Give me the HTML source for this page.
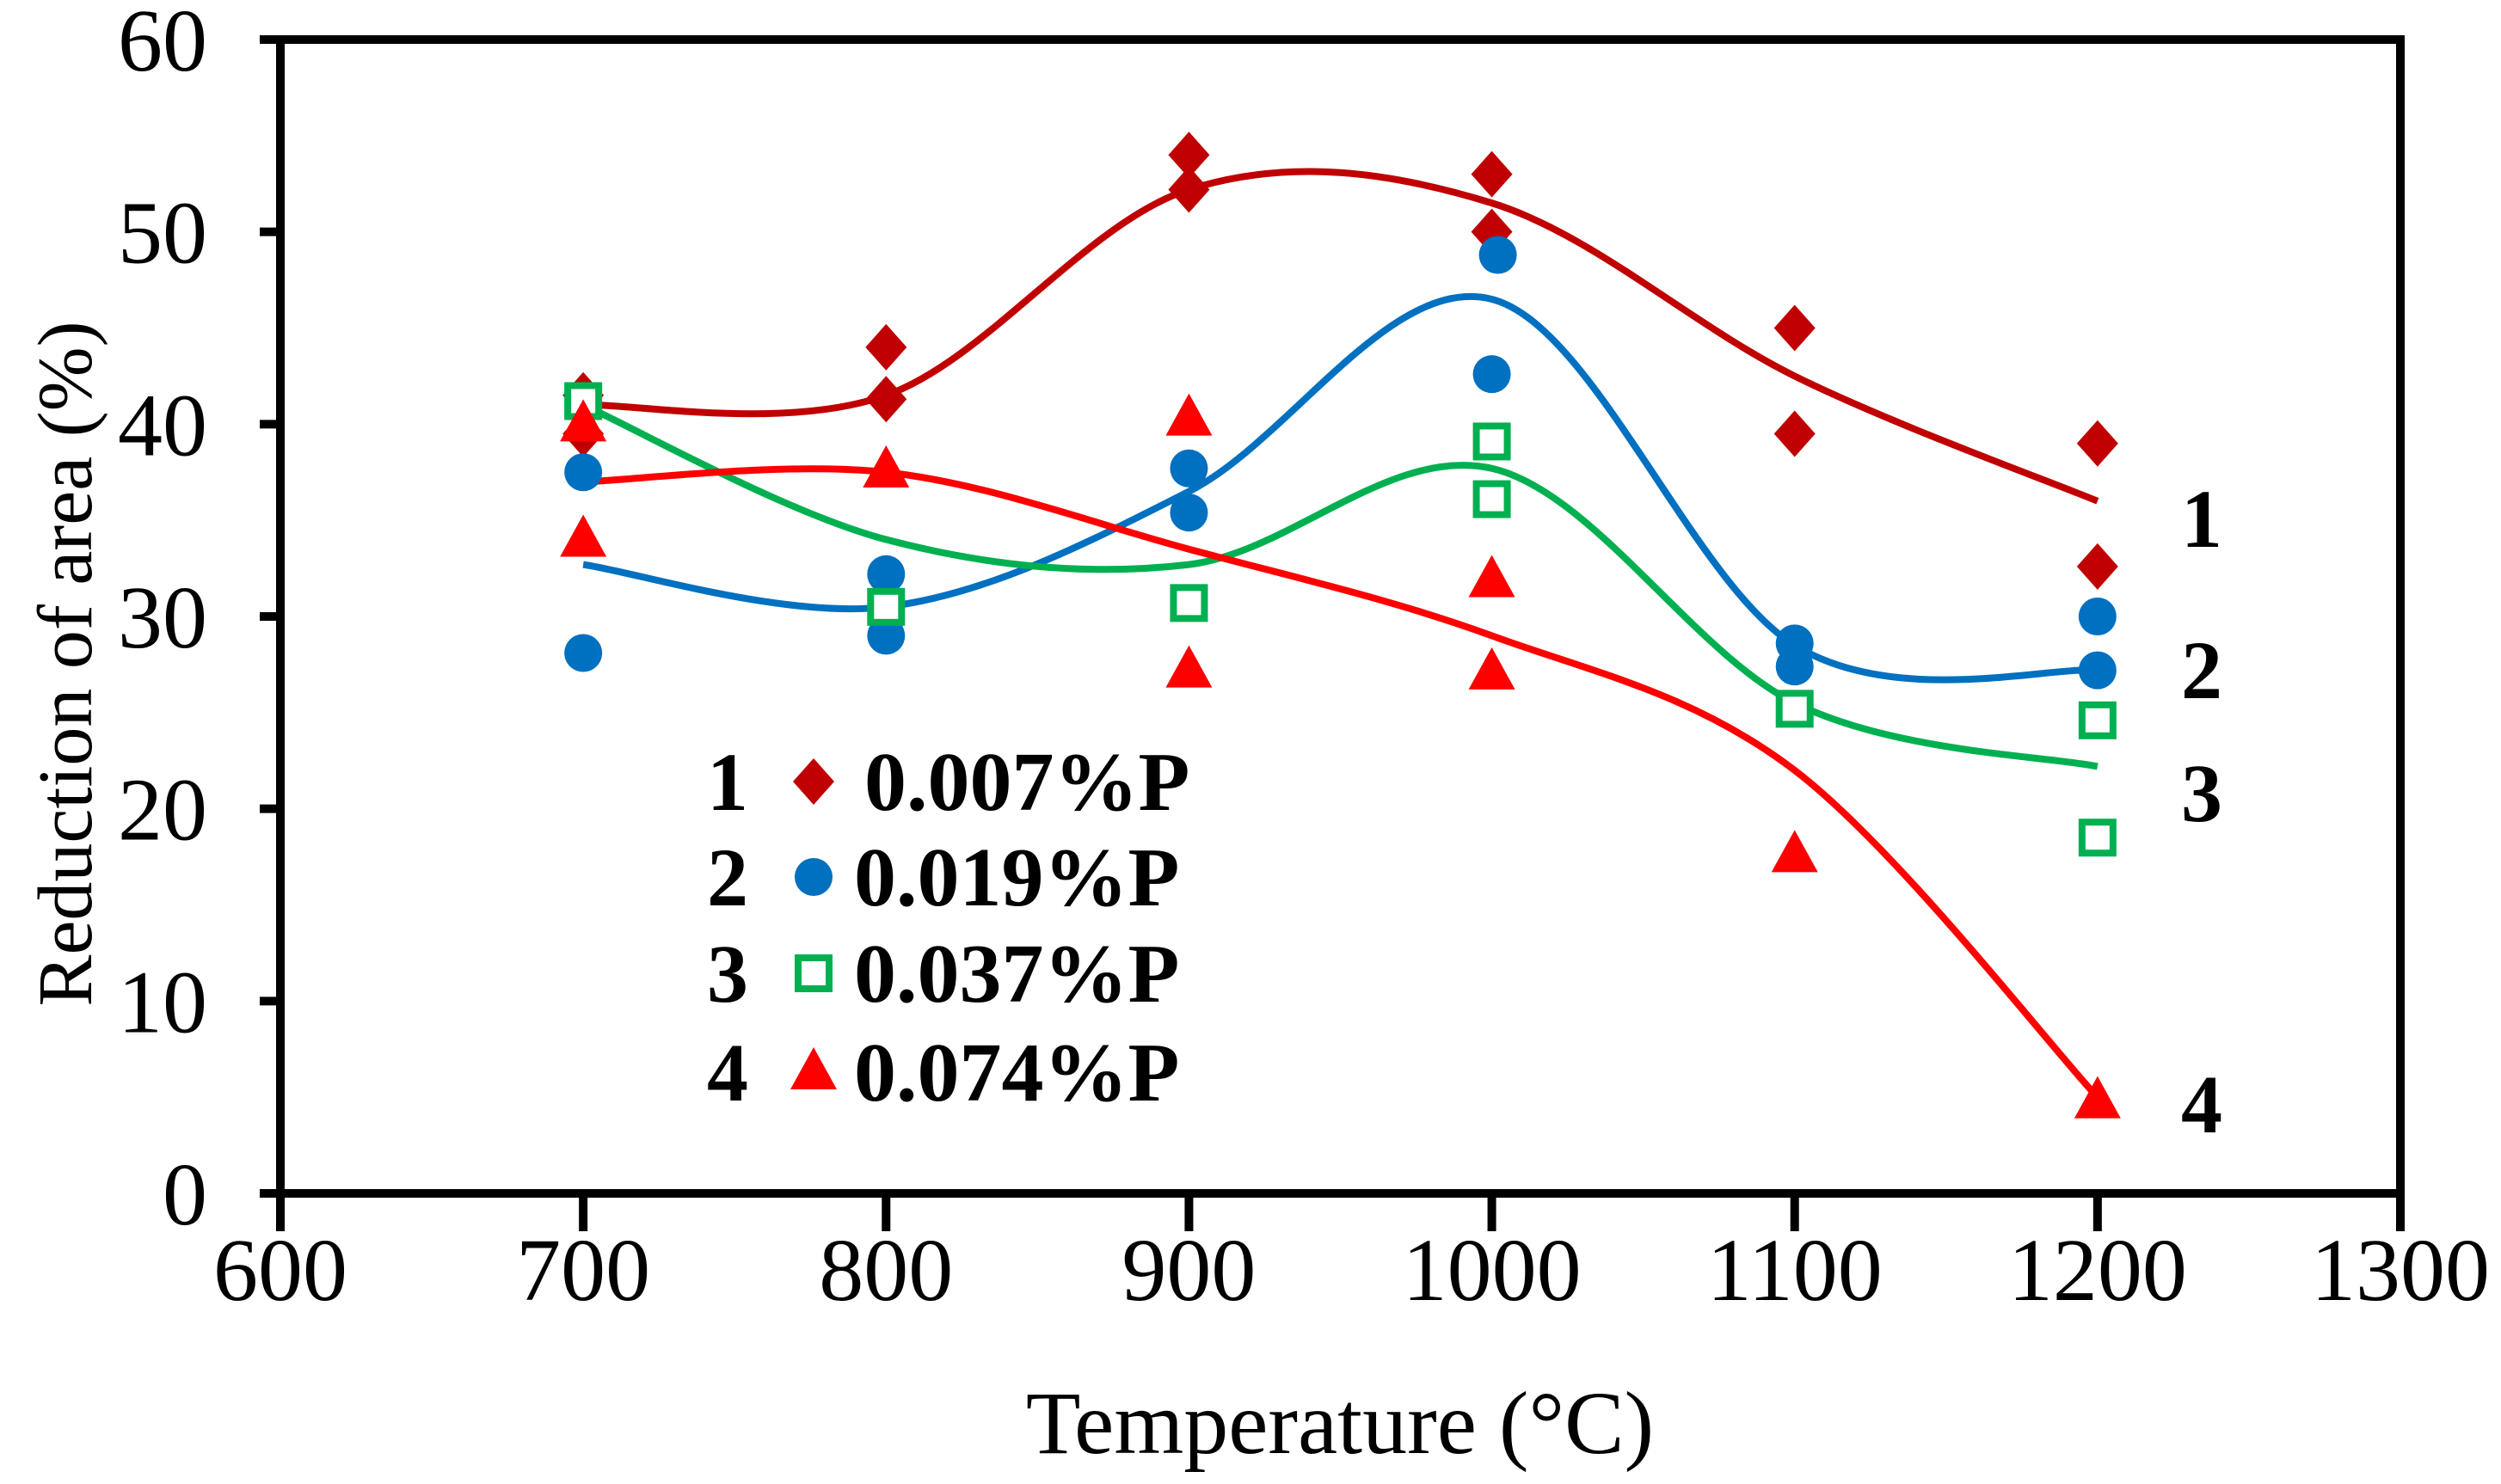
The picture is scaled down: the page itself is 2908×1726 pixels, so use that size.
<!DOCTYPE html>
<html><head><meta charset="utf-8"><style>
html,body{margin:0;padding:0;background:#fff;}
svg{display:block;font-family:"Liberation Serif",serif;}
</style></head><body>
<svg id="chart" width="2908" height="1726" viewBox="0 0 2908 1726" xmlns="http://www.w3.org/2000/svg">
<rect width="2908" height="1726" fill="#fff"/>
<g id="curves"></g><g id="marks"></g><g id="axes"></g>
</svg>
<script>
const xTicks=[600,700,800,900,1000,1100,1200,1300];
const yTicks=[0,10,20,30,40,50,60];
const temps=[700,800,900,1000,1100,1200];
// measured points per series: [temp, value]
const s1Pts=[[700,41.5],[700,39.5],[800,44],[800,41.3],[900,54],[900,52.2],[1000,53],[1000,50],[1100,45],[1100,39.5],[1200,39],[1200,32.6]];
const s2Pts=[[700,37.5],[700,28.1],[800,32.2],[800,29],[900,37.7],[900,35.4],[1002,48.8],[1000,42.6],[1100,28.6],[1100,27.4],[1200,30],[1200,27.2]];
const s3Pts=[[700,41.2],[800,30.5],[900,30.7],[1000,39.1],[1000,36.1],[1100,25.2],[1200,24.6],[1200,18.5]];
const s4Pts=[[700,40],[700,34],[800,37.6],[900,40.3],[900,27.2],[1000,31.9],[1000,27.1],[1100,17.6],[1200,4.8]];
// fitted trend curve values at temps
const s1Fit=[41,41.5,52.2,51.5,42.5,36];
const s2Fit=[32.7,30.5,36.5,46.5,28.5,27.2];
const s3Fit=[41,34,32.7,37.7,25.5,22.2];
const s4Fit=[37,37.5,33.5,29,22,5];
const labels=['0.007%P','0.019%P','0.037%P','0.074%P'];

const L=326,R=2791,T=46,B=1388;
const X=v=>L+(v-600)/700*(R-L);
const Y=v=>B-v/60*(B-T);
const NS='http://www.w3.org/2000/svg';
function mk(tag,attrs,parent){const e=document.createElementNS(NS,tag);for(const k in attrs)e.setAttribute(k,attrs[k]);parent.appendChild(e);return e;}
const axes=document.getElementById('axes'),marks=document.getElementById('marks'),curves=document.getElementById('curves');

function spline(vals){
  const p=temps.map((t,i)=>[X(t),Y(vals[i])]);
  let d=`M${p[0][0]},${p[0][1]}`;
  for(let i=0;i<p.length-1;i++){
    const p0=p[Math.max(0,i-1)],p1=p[i],p2=p[i+1],p3=p[Math.min(p.length-1,i+2)];
    const c1=[p1[0]+(p2[0]-p0[0])/6,p1[1]+(p2[1]-p0[1])/6];
    const c2=[p2[0]-(p3[0]-p1[0])/6,p2[1]-(p3[1]-p1[1])/6];
    d+=` C${c1[0]},${c1[1]} ${c2[0]},${c2[1]} ${p2[0]},${p2[1]}`;
  }
  return d;
}
function marker(type,cx,cy,g){
  let e;
  if(type==='diamond'){e=mk('polygon',{points:`${cx},${cy-27} ${cx+24},${cy} ${cx},${cy+27} ${cx-24},${cy}`,fill:'#C00000'},g);}
  else if(type==='circle'){e=mk('circle',{cx:cx,cy:cy,r:22,fill:'#0070C0'},g);}
  else if(type==='square'){e=mk('rect',{x:cx-18,y:cy-18,width:36,height:36,fill:'#fff',stroke:'#00B050','stroke-width':8},g);}
  else {e=mk('polygon',{points:`${cx},${cy-29} ${cx+27},${cy+20} ${cx-27},${cy+20}`,fill:'#FF0000'},g);}
  return e;
}
const series=[
 {pts:s1Pts,fit:s1Fit,color:'#C00000',type:'diamond'},
 {pts:s2Pts,fit:s2Fit,color:'#0070C0',type:'circle'},
 {pts:s3Pts,fit:s3Fit,color:'#00B050',type:'square'},
 {pts:s4Pts,fit:s4Fit,color:'#FF0000',type:'triangle'}];
series.forEach((s,i)=>{
  const c=mk('path',{d:spline(s.fit),fill:'none',stroke:s.color,'stroke-width':8},curves);
  
  
});
series.forEach((s,i)=>{
  s.pts.forEach(p=>{
    const m=marker(s.type,X(p[0]),Y(p[1]),marks);
    
    
  });
});
const fr=mk('rect',{x:L,y:T,width:R-L,height:B-T,fill:'none',stroke:'#000','stroke-width':10},axes);


yTicks.forEach(v=>{
  mk('line',{x1:L-24,x2:L,y1:Y(v),y2:Y(v),stroke:'#000','stroke-width':10},axes);
  const t=mk('text',{x:241,y:Y(v)+36,'text-anchor':'end','font-size':104},axes);
  t.textContent=v;
  
  
});
xTicks.forEach(v=>{
  mk('line',{x1:X(v),x2:X(v),y1:B,y2:B+44,stroke:'#000','stroke-width':10},axes);
  const t=mk('text',{x:X(v),y:1512,'text-anchor':'middle','font-size':104},axes);
  t.textContent=v;
  
  
});
const yt=mk('text',{x:0,y:0,transform:'translate(106,772) rotate(-90)','text-anchor':'middle','font-size':90},axes);
yt.textContent='Reduction of area (%)';


const xt=mk('text',{x:1558,y:1690,'text-anchor':'middle','font-size':104},axes);
xt.textContent='Temperature (°C)';


const legY=[909,1020,1132,1247];
series.forEach((s,i)=>{
  const n=mk('text',{x:846,y:legY[i]+33,'text-anchor':'middle','font-size':96,'font-weight':'bold'},axes);
  n.textContent=i+1;
  
  
  const m=marker(s.type,946,legY[i],axes);
  
  
  const t=mk('text',{x:i===0?1005:993,y:legY[i]+33,'font-size':98,'font-weight':'bold'},axes);
  t.textContent=labels[i];
  
  
});
const endY=[603,779,922,1284];
endY.forEach((y,i)=>{
  const t=mk('text',{x:2560,y:y+33,'text-anchor':'middle','font-size':96,'font-weight':'bold'},axes);
  t.textContent=i+1;
  
  
});
</script>
</body></html>
